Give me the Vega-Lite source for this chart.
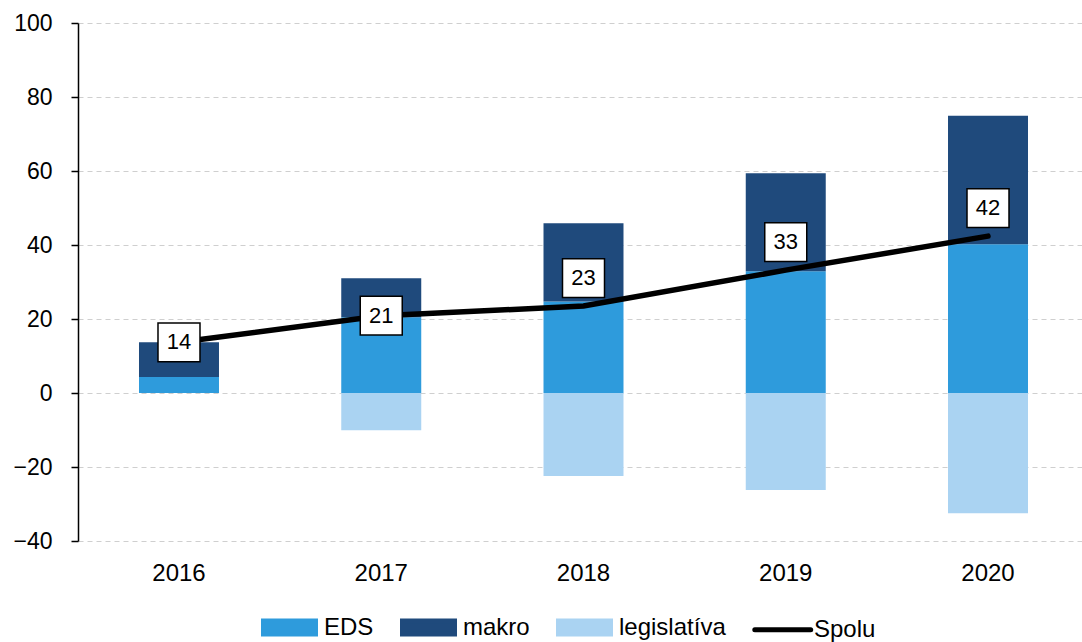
{
  "$schema": "https://vega.github.io/schema/vega-lite/v6.json",
  "width": 1004,
  "height": 518,
  "autosize": {"type": "none"},
  "padding": {"left": 78, "top": 23, "right": 0, "bottom": 101},
  "background": "white",
  "config": {
    "font": "Liberation Sans",
    "view": {"stroke": null},
    "axisX": {"domain": false, "ticks": false, "grid": false, "labelFontSize": 24, "labelPadding": 20, "labelColor": "black", "labelAngle": 0, "title": null},
    "axisY": {"domainColor": "black", "domainWidth": 1.5, "tickColor": "black", "tickSize": 7, "tickWidth": 1.5, "labelFontSize": 23, "labelPadding": 19, "labelColor": "black", "grid": true, "gridColor": "#cfcfcf", "gridDash": [5, 4], "gridWidth": 1.2, "title": null}
  },
  "datasets": {
    "bars": [
      {"year": "2016", "series": "EDS", "value": 4.3, "ord": 1},
      {"year": "2016", "series": "makro", "value": 9.4, "ord": 2},
      {"year": "2016", "series": "legislatíva", "value": 0, "ord": 3},
      {"year": "2017", "series": "EDS", "value": 20.5, "ord": 1},
      {"year": "2017", "series": "makro", "value": 10.5, "ord": 2},
      {"year": "2017", "series": "legislatíva", "value": -10.1, "ord": 3},
      {"year": "2018", "series": "EDS", "value": 24.7, "ord": 1},
      {"year": "2018", "series": "makro", "value": 21.2, "ord": 2},
      {"year": "2018", "series": "legislatíva", "value": -22.4, "ord": 3},
      {"year": "2019", "series": "EDS", "value": 32.9, "ord": 1},
      {"year": "2019", "series": "makro", "value": 26.5, "ord": 2},
      {"year": "2019", "series": "legislatíva", "value": -26.2, "ord": 3},
      {"year": "2020", "series": "EDS", "value": 40.2, "ord": 1},
      {"year": "2020", "series": "makro", "value": 34.7, "ord": 2},
      {"year": "2020", "series": "legislatíva", "value": -32.5, "ord": 3}
    ],
    "total": [
      {"year": "2016", "value": 13.7, "label": "14"},
      {"year": "2017", "value": 20.9, "label": "21"},
      {"year": "2018", "value": 23.5, "label": "23"},
      {"year": "2019", "value": 33.2, "label": "33"},
      {"year": "2020", "value": 42.4, "label": "42"}
    ]
  },
  "encoding": {
    "x": {"field": "year", "type": "nominal", "sort": null, "scale": {"range": [0, 1011], "paddingInner": 0.6045, "paddingOuter": 0.3016}, "axis": {}},
    "y": {"field": "value", "type": "quantitative", "scale": {"domain": [-40, 100], "nice": false, "zero": false}, "axis": {"values": [-40, -20, 0, 20, 40, 60, 80, 100]}}
  },
  "layer": [
    {
      "data": {"name": "bars"},
      "mark": {"type": "bar"},
      "encoding": {
        "y": {"field": "value", "type": "quantitative", "stack": "zero"},
        "order": {"field": "ord", "type": "quantitative"},
        "color": {
          "field": "series", "type": "nominal",
          "scale": {"domain": ["EDS", "makro", "legislatíva", "Spolu"], "range": ["#2e9bdc", "#1f4a7c", "#aad3f2", "#000000"]},
          "legend": {
            "orient": "none", "legendX": 183, "legendY": 576, "padding": 0,
            "direction": "horizontal", "title": null,
            "labelFontSize": 24, "labelColor": "black", "labelOffset": 6,
            "columnPadding": 18,
            "symbolSize": 2704, "symbolType": "M-1,-0.25H1V0.25H-1Z",
            "encode": {
              "symbols": {
                "update": {
                  "shape": {"signal": "datum.value === 'Spolu' ? 'M-0.95,0H1.2' : 'M-1,-0.25H1V0.25H-1Z'"},
                  "fill": {"signal": "datum.value === 'Spolu' ? 'transparent' : scale('color', datum.value)"},
                  "stroke": {"signal": "datum.value === 'Spolu' ? 'black' : 'transparent'"},
                  "strokeWidth": {"value": 5},
                  "strokeCap": {"value": "round"},
                  "opacity": {"value": 1}
                }
              }
            }
          }
        }
      }
    },
    {
      "data": {"values": [{}]},
      "mark": {"type": "rule", "color": "black", "strokeWidth": 2},
      "encoding": {"x": null, "y": {"datum": 0, "type": "quantitative"}}
    },
    {
      "data": {"name": "total"},
      "mark": {"type": "line", "strokeWidth": 5.5, "strokeCap": "round"},
      "encoding": {"color": {"datum": "Spolu"}}
    },
    {
      "data": {"name": "total"},
      "transform": [{"filter": "toNumber(datum.year) <= 2017"}],
      "layer": [
        {"mark": {"type": "point", "shape": "M-1.05,-0.97H1.05V0.97H-1.05Z", "size": 1600, "filled": true, "fill": "white", "stroke": "black", "strokeWidth": 1.5, "opacity": 1}},
        {"mark": {"type": "text", "fontSize": 22, "color": "black", "baseline": "middle", "align": "center"}, "encoding": {"text": {"field": "label"}}}
      ]
    },
    {
      "data": {"name": "total"},
      "transform": [{"filter": "toNumber(datum.year) >= 2018"}],
      "layer": [
        {"mark": {"type": "point", "shape": "M-1.05,-0.97H1.05V0.97H-1.05Z", "size": 1600, "filled": true, "fill": "white", "stroke": "black", "strokeWidth": 1.5, "opacity": 1, "yOffset": -28}},
        {"mark": {"type": "text", "fontSize": 22, "color": "black", "baseline": "middle", "align": "center", "yOffset": -28}, "encoding": {"text": {"field": "label"}}}
      ]
    }
  ]
}
